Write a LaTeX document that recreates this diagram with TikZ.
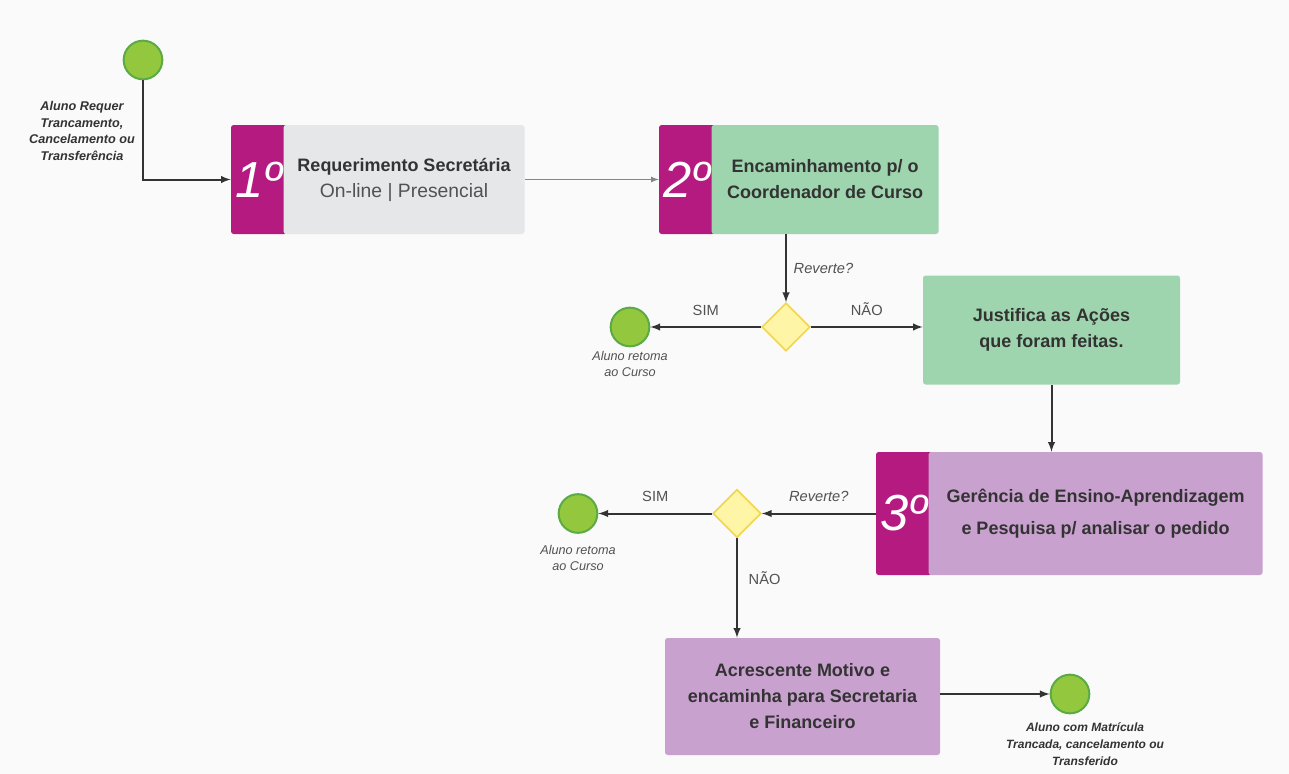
\documentclass[tikz,border=0pt]{standalone}
\usepackage{fontspec}
\setmainfont{Liberation Sans}
\usetikzlibrary{shapes.geometric, positioning}
\usetikzlibrary{arrows}
\definecolor{mag}{HTML}{B41A7F}
\definecolor{cinza}{HTML}{E6E7E9}
\definecolor{verde}{HTML}{9ED5AE}
\definecolor{lilas}{HTML}{C9A1CF}
\definecolor{bola}{HTML}{93C83E}
\definecolor{bolaborda}{HTML}{5BAA46}
\definecolor{losango}{HTML}{FFF5A6}
\definecolor{losangoborda}{HTML}{F2D54A}
\definecolor{texto}{HTML}{333333}
\definecolor{fundo}{HTML}{FAFAFA}

\begin{document}
\begin{tikzpicture}[x=0.75pt,y=-0.75pt,>=latex,
  numbox/.style={fill=mag,rounded corners=2pt,minimum width=42pt,inner sep=0pt,text=white,font=\fontsize{38}{40}\selectfont\itshape},
  stepbox/.style={rounded corners=2pt,align=center,inner sep=0pt,text=texto,font=\fontsize{13.5}{19.5}\selectfont\bfseries},
  endpt/.style={circle,fill=bola,draw=bolaborda,line width=1.5pt,minimum size=29pt,inner sep=0pt},
  decis/.style={diamond,fill=losango,draw=losangoborda,line width=1.2pt,minimum width=36pt,minimum height=36pt,inner sep=0pt},
  flow/.style={->,draw=texto,line width=1.5pt},
  rot/.style={font=\fontsize{11}{13}\selectfont,text=texto!85,inner sep=0pt},
  roti/.style={rot,font=\fontsize{11}{13}\selectfont\itshape},
  obs/.style={align=center,font=\fontsize{9.5}{12.5}\selectfont\bfseries\itshape,text=texto},
  obsret/.style={align=center,font=\fontsize{9.5}{12.5}\selectfont\itshape,text=texto!85}]
%------------------------------
% fundo
%______________________________
\fill[fundo] (0,0) rectangle (1289,774);
\useasboundingbox (0,0) rectangle (1289,774);
%
% 1o passo
\node[endpt] (ini) at (143,60) {};
\node[obs] (initxt) at (82,131) {Aluno Requer\\Trancamento,\\Cancelamento ou\\Transferência};
\node[numbox,minimum height=81.75pt] (num1) at (259,179.5) {1º};
\node[stepbox,fill=cinza,minimum width=180.75pt,minimum height=81.75pt,right=-3pt of num1] (req)
  {Requerimento Secretária\\{\mdseries\fontsize{14.5}{19.5}\selectfont\color{texto!85}On-line | Presencial}};
\draw[flow] (ini) |- (num1);
%
% 2o passo
\node[numbox,minimum height=81.75pt] (num2) at (687,179.5) {2º};
\node[stepbox,fill=verde,minimum width=170.25pt,minimum height=81.75pt,right=-3pt of num2] (enc)
  {Encaminhamento p/ o\\Coordenador de Curso};
\draw[->,draw=texto!60,line width=1pt] (req) -- (num2);
%
\node[decis] (dia1) at (786,327) {};
\node[endpt] (ret1) at (630,327) {};
\node[obsret] (ret1txt) at (630,364) {Aluno retoma\\ao Curso};
\node[stepbox,fill=verde,minimum width=192.75pt,minimum height=81.75pt] (just) at (1051.5,330)
  {Justifica as Ações\\que foram feitas.};
\draw[flow] (enc.south -| dia1) -- (dia1.north) node[midway,right=5pt,roti] {Reverte?};
\draw[flow] (dia1) -- (ret1) node[midway,above=8pt,rot] {SIM};
\draw[flow] (dia1) -- (dia1 -| just.west) node[midway,above=8pt,rot] {NÃO};
%
% 3o passo
\node[numbox,minimum height=92.25pt] (num3) at (904,513.5) {3º};
\node[stepbox,fill=lilas,minimum width=250.5pt,minimum height=92.25pt,right=-3pt of num3,font=\fontsize{13.5}{24}\selectfont\bfseries] (ger)
  {Gerência de Ensino-Aprendizagem\\e Pesquisa p/ analisar o pedido};
\draw[flow] (just.south) -- (just.south |- ger.north);
%
\node[decis] (dia2) at (737,513.5) {};
\node[endpt] (ret2) at (578,513.5) {};
\node[obsret] (ret2txt) at (578,558) {Aluno retoma\\ao Curso};
\draw[flow] (num3) -- (dia2) node[midway,above=8pt,roti] {Reverte?};
\draw[flow] (dia2) -- (ret2) node[midway,above=8pt,rot] {SIM};
%
\node[stepbox,fill=lilas,minimum width=206.25pt,minimum height=87.75pt] (acr) at (802.5,696.5)
  {Acrescente Motivo e\\encaminha para Secretaria\\e Financeiro};
\draw[flow] (dia2) -- (dia2 |- acr.north) node[pos=0.4,right=8pt,rot] {NÃO};
%
\node[endpt] (fim) at (1070,694) {};
\node[obs,font=\fontsize{9}{12.5}\selectfont\bfseries\itshape] (fimtxt) at (1085,744) {Aluno com Matrícula\\Trancada, cancelamento ou\\Transferido};
\draw[flow] (acr.east |- fim) -- (fim);
\end{tikzpicture}
\end{document}
